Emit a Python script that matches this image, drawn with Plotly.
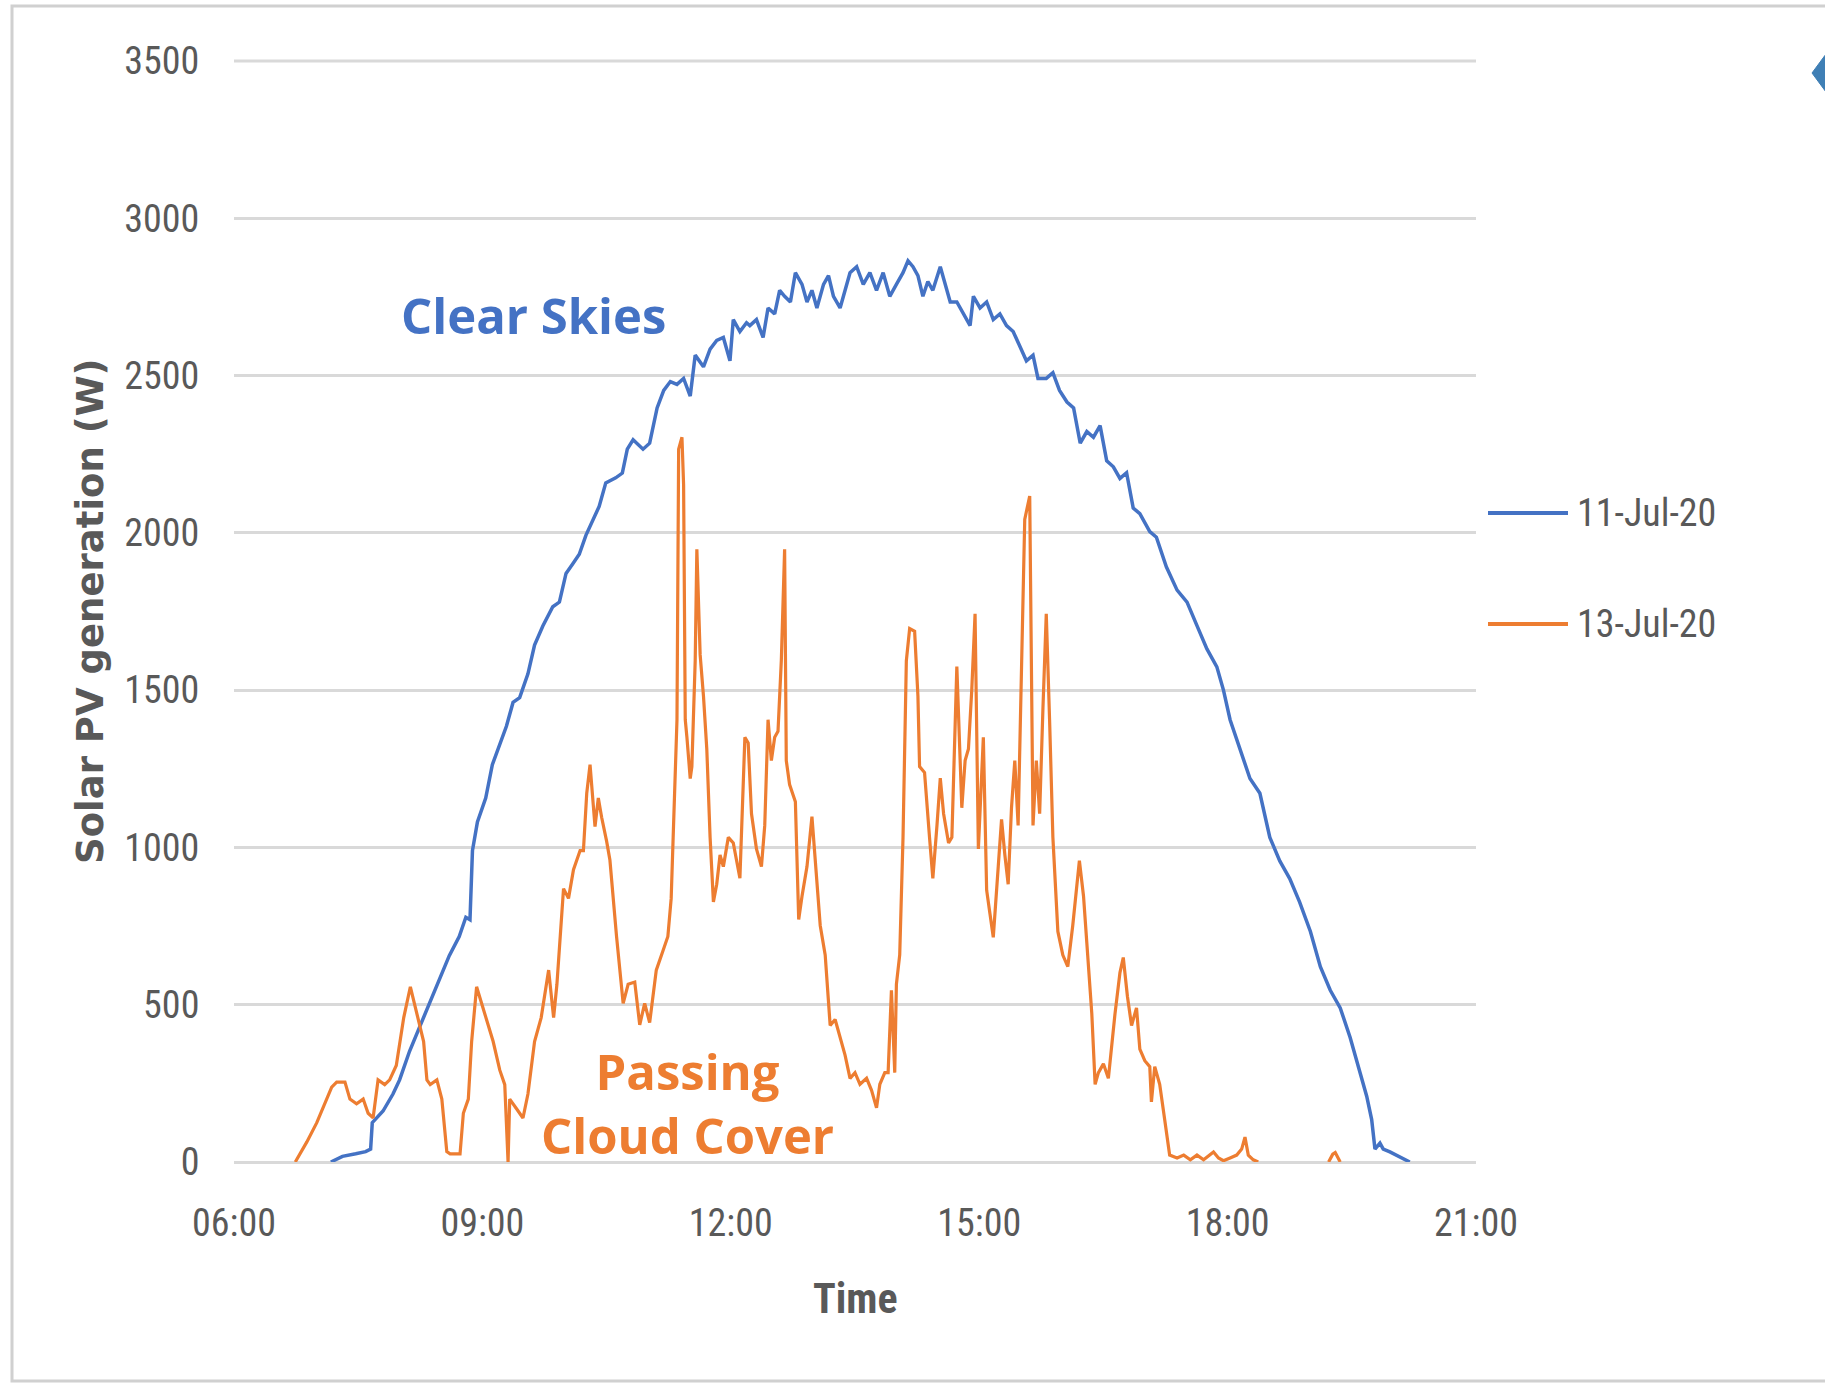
import plotly.graph_objects as go

# ---------------- data (time of day in hours, power in W) ----------------
clear_hours = [
    7.17, 7.31, 7.47, 7.59, 7.65, 7.67, 7.80, 7.92, 8.00, 8.12,
    8.24, 8.36, 8.48, 8.60, 8.72, 8.80, 8.85, 8.88, 8.94, 9.04,
    9.12, 9.20, 9.29, 9.37, 9.45, 9.55, 9.63, 9.73, 9.85, 9.93,
    10.01, 10.09, 10.17, 10.25, 10.33, 10.41, 10.49, 10.61, 10.69, 10.75,
    10.82, 10.94,
    11.02, 11.11, 11.19, 11.27, 11.35, 11.43, 11.51, 11.57, 11.67, 11.75,
    11.83, 11.91, 11.99, 12.03, 12.11, 12.19, 12.23, 12.31, 12.39, 12.45,
    12.53, 12.59, 12.65, 12.72, 12.78, 12.86, 12.92, 12.98, 13.04, 13.12,
    13.18, 13.24, 13.32, 13.38, 13.44, 13.52, 13.60, 13.68, 13.76, 13.84,
    13.92, 14.00, 14.08, 14.14, 14.20, 14.26, 14.32, 14.38, 14.44, 14.53,
    14.59, 14.65, 14.73, 14.81, 14.89, 14.93, 15.01, 15.09, 15.17, 15.25,
    15.33, 15.41, 15.49, 15.57, 15.65, 15.71, 15.81, 15.89, 15.97,
    16.06, 16.14, 16.22, 16.30, 16.38, 16.46, 16.54, 16.62, 16.70, 16.78,
    16.86, 16.94, 17.06, 17.14, 17.26, 17.39, 17.51, 17.63, 17.75, 17.87,
    17.95, 18.03, 18.15, 18.27, 18.39, 18.45, 18.51, 18.63, 18.75, 18.87,
    19.00, 19.12, 19.24, 19.36, 19.48, 19.60, 19.68, 19.74, 19.78, 19.84,
    19.88, 19.96, 20.04, 20.12, 20.20,
]
clear_watts = [
    0, 18, 26, 33, 41, 125, 162, 216, 261, 352,
    428, 504, 580, 656, 717, 778, 770, 990, 1081, 1157,
    1263, 1324, 1385, 1461, 1476, 1552, 1643, 1704, 1765, 1780,
    1871, 1901, 1932, 1992, 2038, 2084, 2159, 2175, 2190, 2266,
    2296, 2266,
    2285, 2397, 2453, 2481, 2472, 2491, 2435, 2565, 2528, 2584,
    2612, 2621, 2547, 2678, 2640, 2668, 2659, 2678, 2621, 2715,
    2696, 2771, 2752, 2734, 2827, 2790, 2734, 2771, 2715, 2790,
    2818, 2752, 2715, 2771, 2827, 2846, 2790, 2827, 2771, 2827,
    2752, 2790, 2827, 2865, 2846, 2818, 2752, 2799, 2771, 2846,
    2790, 2734, 2734, 2696, 2659, 2752, 2715, 2734, 2678, 2696,
    2659, 2640, 2594, 2547, 2565, 2491, 2491, 2509, 2453,
    2416, 2397, 2285, 2322, 2304, 2341, 2229, 2210, 2173, 2191,
    2079, 2061, 2004, 1986, 1892, 1818, 1780, 1705, 1631, 1574,
    1500, 1406, 1313, 1219, 1172, 1107, 1032, 957, 901, 826,
    733, 621, 546, 490, 396, 284, 209, 135, 41, 60,
    41, 32, 22, 13, 0,
]

cloud_hours = [
    6.74, 6.88, 7.00, 7.12, 7.18, 7.24, 7.34, 7.40, 7.48, 7.56,
    7.62, 7.68, 7.74, 7.82, 7.88, 7.96, 8.05, 8.13, 8.19, 8.23,
    8.29, 8.33, 8.37, 8.45, 8.51, 8.57, 8.61, 8.73, 8.77, 8.83,
    8.87, 8.93, 8.99, 9.05, 9.13, 9.21, 9.27, 9.31, 9.33, 9.41,
    9.49, 9.55, 9.63, 9.71, 9.80, 9.86, 9.90, 9.98, 10.04, 10.10,
    10.18, 10.22, 10.26, 10.30, 10.36, 10.40, 10.44, 10.50, 10.54, 10.62,
    10.70, 10.76, 10.84, 10.90, 10.96, 11.02, 11.10, 11.18, 11.24, 11.28,
    11.32, 11.35, 11.37, 11.41, 11.43, 11.45, 11.47, 11.51, 11.53, 11.57,
    11.59, 11.63, 11.67, 11.71, 11.75, 11.79, 11.83, 11.87, 11.91, 11.97,
    12.03, 12.07, 12.11, 12.17, 12.21, 12.25, 12.31, 12.37, 12.41, 12.45,
    12.49, 12.53, 12.57, 12.61, 12.65, 12.67, 12.71, 12.78, 12.82, 12.86,
    12.92, 12.98, 13.04, 13.08, 13.14, 13.20, 13.26, 13.32, 13.38, 13.44,
    13.50, 13.56, 13.64, 13.70, 13.76, 13.80, 13.86, 13.90, 13.94, 13.98,
    14.00, 14.04, 14.08, 14.12, 14.16, 14.22, 14.26, 14.28, 14.34, 14.40,
    14.44, 14.49, 14.53, 14.57, 14.63, 14.67, 14.73, 14.79, 14.83, 14.87,
    14.91, 14.95, 14.99, 15.05, 15.09, 15.13, 15.17, 15.23, 15.27, 15.31,
    15.35, 15.39, 15.43, 15.47, 15.51, 15.55, 15.61, 15.65, 15.69, 15.73,
    15.77, 15.81, 15.85, 15.89, 15.95, 16.01, 16.07, 16.13, 16.21, 16.26,
    16.30, 16.36, 16.40, 16.44, 16.50, 16.56, 16.64, 16.70, 16.74, 16.79,
    16.84, 16.90, 16.94, 17.00, 17.06, 17.08, 17.12, 17.18, 17.24, 17.30,
    17.39, 17.47, 17.55, 17.63, 17.71, 17.79, 17.83, 17.89, 17.95, 18.03,
    18.11, 18.17, 18.21, 18.25, 18.31, 18.37, 18.80,
    19.22, 19.27, 19.30, 19.33, 19.36,
]
cloud_watts = [
    0, 64, 125, 200, 238, 254, 254, 200, 185, 200,
    155, 140, 261, 246, 261, 307, 459, 557, 489, 443,
    383, 261, 246, 261, 200, 33, 26, 26, 155, 200,
    383, 557, 504, 459, 383, 292, 246, 0, 200, 170,
    140, 216, 383, 459, 610, 459, 565, 869, 838, 929,
    990, 990, 1172, 1263, 1066, 1157, 1096, 1020, 960, 717,
    504, 565, 572, 436, 504, 443, 610, 671, 717, 838,
    1142, 1406, 2266, 2304, 2154, 1406, 1350, 1219, 1257, 1593,
    1948, 1612, 1481, 1313, 1032, 827, 883, 976, 939, 1032,
    1014, 958, 902, 1350, 1332, 1107, 995, 939, 1070, 1406,
    1276, 1350, 1369, 1593, 1948, 1276, 1200, 1145, 771, 845,
    939, 1098, 883, 752, 658, 434, 453, 397, 340, 266,
    284, 247, 266, 228, 172, 247, 284, 284, 546, 284,
    565, 658, 1032, 1593, 1696, 1687, 1481, 1257, 1238, 1032,
    902, 1070, 1220, 1107, 1014, 1032, 1575, 1126, 1276, 1313,
    1500, 1743, 995, 1350, 864, 789, 714, 939, 1089, 976,
    883, 1126, 1276, 1070, 1519, 2043, 2117, 1070, 1276, 1107,
    1444, 1743, 1406, 1032, 733, 658, 621, 752, 958, 845,
    696, 471, 247, 284, 312, 266, 471, 602, 650, 527,
    434, 490, 359, 322, 303, 191, 303, 247, 135, 22,
    13, 22, 7, 22, 7, 22, 32, 13, 4, 13,
    22, 41, 79, 22, 7, 0, None,
    0, 25, 30, 15, 0,
]

series_names = ["11-Jul-20", "13-Jul-20"]
x_tick_vals = [6, 9, 12, 15, 18, 21]
x_tick_text = ["06:00", "09:00", "12:00", "15:00", "18:00", "21:00"]
y_tick_vals = [0, 500, 1000, 1500, 2000, 2500, 3000, 3500]

# ---------------- styling ----------------
BLUE = "#4472C4"
ORANGE = "#ED7D31"
GRAY_TXT = "#595959"
GRID = "#D9D9D9"
NARROW = "Liberation Sans Narrow, Arial Narrow, Roboto Condensed, sans-serif"

W, H = 1825, 1386
L, R, T, B = 234, 1476, 61, 1162  # plot area in pixels


def px(xp):
    return (xp - L) / (R - L)


def py(yp):
    return (B - yp) / (B - T)


fig = go.Figure()
fig.add_trace(go.Scatter(x=clear_hours, y=clear_watts, mode="lines",
                         name=series_names[0],
                         line=dict(color=BLUE, width=3.5), connectgaps=False))
fig.add_trace(go.Scatter(x=cloud_hours, y=cloud_watts, mode="lines",
                         name=series_names[1],
                         line=dict(color=ORANGE, width=3.2), connectgaps=False))

shapes = [
    # outer chart border
    dict(type="rect", xref="paper", yref="paper",
         x0=px(12), x1=px(1835), y0=py(1381), y1=py(6),
         line=dict(color="#D0D0D0", width=3), fillcolor="rgba(0,0,0,0)",
         layer="below"),
    # top gridline (upper edge of the value range, not clipped)
    dict(type="line", xref="paper", yref="paper",
         x0=0, x1=1, y0=1, y1=1,
         line=dict(color=GRID, width=3), layer="below"),
    # legend samples
    dict(type="line", xref="paper", yref="paper",
         x0=px(1488), x1=px(1568), y0=py(513), y1=py(513),
         line=dict(color=BLUE, width=4)),
    dict(type="line", xref="paper", yref="paper",
         x0=px(1488), x1=px(1568), y0=py(624), y1=py(624),
         line=dict(color=ORANGE, width=4)),
    # partially visible icon at the top-right edge
    dict(type="path", xref="paper", yref="paper",
         path=f"M {px(1826)},{py(54)} L {px(1812)},{py(73)} L {px(1826)},{py(92)} Z",
         fillcolor="#3F7FB5", line=dict(color="#3F7FB5", width=1)),
]

annotations = [
    dict(text="Clear Skies", xref="paper", yref="paper",
         x=px(533), y=py(315), xanchor="center", yanchor="middle",
         showarrow=False,
         font=dict(family="Open Sans", size=49, color=BLUE, weight="bold")),
    dict(text="Passing<br>Cloud Cover", xref="paper", yref="paper",
         x=px(687), y=py(1103), xanchor="center", yanchor="middle",
         align="center", showarrow=False,
         font=dict(family="Open Sans", size=49, color=ORANGE, weight="bold")),
    # axis titles
    dict(text="Solar PV generation (W)", xref="paper", yref="paper",
         x=px(90), y=py(612), xanchor="center", yanchor="middle",
         textangle=-90, showarrow=False,
         font=dict(family="DejaVu Sans", size=37, color=GRAY_TXT, weight="bold")),
    dict(text="Time", xref="paper", yref="paper",
         x=px(855), y=py(1298), xanchor="center", yanchor="middle",
         showarrow=False,
         font=dict(family=NARROW, size=42, color=GRAY_TXT, weight="bold")),
    # legend labels
    dict(text=series_names[0], xref="paper", yref="paper",
         x=px(1575), y=py(513), xanchor="left", yanchor="middle",
         showarrow=False, font=dict(family=NARROW, size=38, color=GRAY_TXT)),
    dict(text=series_names[1], xref="paper", yref="paper",
         x=px(1575), y=py(624), xanchor="left", yanchor="middle",
         showarrow=False, font=dict(family=NARROW, size=38, color=GRAY_TXT)),
]

fig.update_layout(
    width=W, height=H, autosize=False,
    margin=dict(l=L, r=W - R, t=T, b=H - B, pad=0),
    paper_bgcolor="white", plot_bgcolor="white",
    showlegend=False,
    shapes=shapes, annotations=annotations,
    xaxis=dict(range=[6, 21], tickvals=x_tick_vals, ticktext=x_tick_text,
               showgrid=False, zeroline=False, showline=False,
               ticks="outside", ticklen=27, tickcolor="rgba(0,0,0,0)",
               tickfont=dict(family=NARROW, size=38, color=GRAY_TXT)),
    yaxis=dict(range=[0, 3500], tickvals=y_tick_vals,
               showgrid=True, gridcolor=GRID, gridwidth=3,
               zeroline=True, zerolinecolor=GRID, zerolinewidth=3,
               showline=False,
               ticks="outside", ticklen=26, tickcolor="rgba(0,0,0,0)",
               tickfont=dict(family=NARROW, size=38, color=GRAY_TXT)),
)

fig.write_html("out.html")
